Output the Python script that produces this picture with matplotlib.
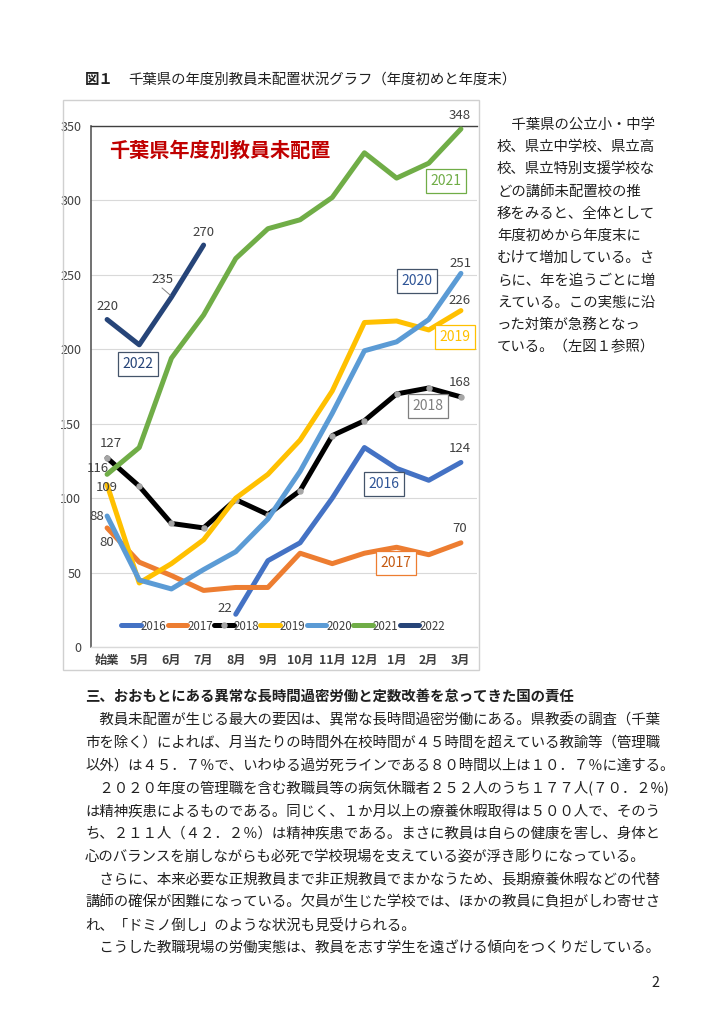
import matplotlib
matplotlib.use("Agg")
import matplotlib.pyplot as plt
from matplotlib.patches import Rectangle

plt.rcParams['font.family'] = ['Noto Sans CJK JP', 'DejaVu Sans']

# ---------------- data ----------------
months = ["始業", "5月", "6月", "7月", "8月", "9月", "10月", "11月", "12月", "1月", "2月", "3月"]
y2016 = [None, None, None, None, 22, 58, 70, 100, 134, 120, 112, 124]
y2017 = [80, 57, 48, 38, 40, 40, 63, 56, 63, 67, 62, 70]
y2018 = [127, 108, 83, 80, 99, 89, 105, 142, 152, 170, 174, 168]
y2019 = [109, 43, 56, 72, 100, 116, 139, 172, 218, 219, 213, 226]
y2020 = [88, 45, 39, 52, 64, 86, 118, 157, 199, 205, 220, 251]
y2021 = [116, 134, 194, 223, 261, 281, 287, 302, 332, 315, 325, 348]
y2022 = [220, 203, 235, 270, None, None, None, None, None, None, None, None]
series_names = ["2016", "2017", "2018", "2019", "2020", "2021", "2022"]
yticks = [0, 50, 100, 150, 200, 250, 300, 350]

colors = {"2016": "#4472C4", "2017": "#ED7D31", "2018": "#000000", "2019": "#FFC000",
          "2020": "#5B9BD5", "2021": "#70AD47", "2022": "#264478"}

W, H = 724, 1024
fig = plt.figure(figsize=(W / 100, H / 100), dpi=100)
fig.patch.set_facecolor("white")

def fx(px):
    return px / W

def fy(py):
    return 1 - py / H

# outer chart border
fig.patches.append(Rectangle((fx(63), fy(670)), fx(479) - fx(63), fy(100) - fy(670),
                             transform=fig.transFigure, fill=False, ec="#D0D0D0", lw=1.0))

ax_l, ax_r, ax_t, ax_b = 91, 477, 126, 647
ax = fig.add_axes([fx(ax_l), fy(ax_b), fx(ax_r) - fx(ax_l), fy(ax_t) - fy(ax_b)])
ax.set_xlim(-0.5, 11.5)
ax.set_ylim(0, 350)
ax.set_yticks(yticks)
ax.set_xticks(range(len(months)))
ax.set_xticklabels(months, fontsize=8.8, fontweight="bold", color="#404040")
ax.tick_params(axis="y", length=0, pad=7, labelsize=9, labelcolor="#404040")
ax.tick_params(axis="x", length=0, pad=5)
ax.grid(axis="y", color="#D9D9D9", lw=0.8)
ax.set_axisbelow(True)
ax.spines["right"].set_visible(False)
ax.spines["left"].set_color("#595959")
ax.spines["left"].set_linewidth(1.2)
ax.spines["top"].set_color("#404040")
ax.spines["top"].set_linewidth(1.0)
ax.spines["bottom"].set_color("#D9D9D9")
ax.spines["bottom"].set_linewidth(1.0)

data = {"2016": y2016, "2017": y2017, "2018": y2018, "2019": y2019,
        "2020": y2020, "2021": y2021, "2022": y2022}
handles = []
for i, name in enumerate(series_names):
    vals = data[name]
    xs = [k for k, v in enumerate(vals) if v is not None]
    ys = [v for v in vals if v is not None]
    kw = dict(color=colors[name], lw=3.6, solid_capstyle="round", solid_joinstyle="round",
              zorder=3 + i)
    if name == "2018":
        kw.update(marker="o", markersize=3.6, markerfacecolor="#A6A6A6", markeredgecolor="#A6A6A6")
    ln, = ax.plot(xs, ys, label=name, **kw)
    handles.append(ln)

leg = ax.legend(handles=handles, ncol=7, loc="center",
                bbox_to_anchor=(fx(283), fy(626)), bbox_transform=fig.transFigure,
                frameon=False, fontsize=8.3, handlelength=1.7, handletextpad=0.0,
                columnspacing=0.1, borderpad=0)
for t in leg.get_texts():
    t.set_color("#404040")

# chart title
ax.text((220 - 107) / 32.2, (647 - 150) / 1.4886, "千葉県年度別教員未配置", color="#C00000",
        fontsize=14.5, fontweight="bold", ha="center", va="center", zorder=10)

def dx(px):
    return (px - 107) / 32.17

def dy(py):
    return (647 - py) / 1.4886

# value labels (pixel positions converted to data coordinates)
value_labels = [
    ("348", 460, 115), ("270", 203, 232), ("235", 162, 279), ("220", 107, 306),
    ("251", 460, 263), ("226", 460, 300), ("168", 460, 382), ("124", 460, 448),
    ("127", 111, 443), ("116", 98, 468), ("109", 107, 487), ("88", 97, 516),
    ("80", 107, 542), ("70", 460, 528), ("22", 225, 608),
]
for txt, px, py in value_labels:
    ax.text(dx(px), dy(py), txt, fontsize=9.5, color="#404040", ha="center", va="center",
            zorder=20, clip_on=False)
# leader line for 235
ax.plot([dx(162), dx(170)], [dy(288), dy(295)], color="#808080", lw=0.7, zorder=19)

# series name boxes
boxes = [
    ("2021", 446, 181, "#70AD47", "#70AD47"),
    ("2020", 417, 281, "#2F5597", "#44546A"),
    ("2019", 455, 337, "#FFC000", "#FFC000"),
    ("2022", 138, 364, "#264478", "#44546A"),
    ("2018", 428, 406, "#7F7F7F", "#7F7F7F"),
    ("2016", 384, 484, "#2F5597", "#44546A"),
    ("2017", 396, 563, "#C55A11", "#ED7D31"),
]
for txt, px, py, tc, ec in boxes:
    ax.text(dx(px), dy(py), txt, fontsize=10, color=tc, ha="center", va="center", zorder=25,
            bbox=dict(boxstyle="square,pad=0.33", fc="white", ec=ec, lw=0.9))

# ---------------- page text ----------------
fs = 10.4
fig.text(fx(85), fy(80), "図１", fontsize=fs, fontweight="bold", ha="left", va="center", color="#202020")
fig.text(fx(128), fy(80), "千葉県の年度別教員未配置状況グラフ（年度初めと年度末）", fontsize=fs,
         ha="left", va="center", color="#202020")

side_lines = [
    "　千葉県の公立小・中学",
    "校、県立中学校、県立高",
    "校、県立特別支援学校な",
    "どの講師未配置校の推",
    "移をみると、全体として",
    "年度初めから年度末に",
    "むけて増加している。さ",
    "らに、年を追うごとに増",
    "えている。この実態に沿",
    "った対策が急務となっ",
    "ている。（左図１参照）",
]
for i, s in enumerate(side_lines):
    fig.text(fx(497), fy(125 + i * 22.2), s, fontsize=fs, ha="left", va="center", color="#202020")

body_lines = [
    "三、おおもとにある異常な長時間過密労働と定数改善を怠ってきた国の責任",
    "　教員未配置が生じる最大の要因は、異常な長時間過密労働にある。県教委の調査（千葉",
    "市を除く）によれば、月当たりの時間外在校時間が４５時間を超えている教諭等（管理職",
    "以外）は４５．７％で、いわゆる過労死ラインである８０時間以上は１０．７％に達する。",
    "　２０２０年度の管理職を含む教職員等の病気休職者２５２人のうち１７７人(７０．２%)",
    "は精神疾患によるものである。同じく、１か月以上の療養休暇取得は５００人で、そのう",
    "ち、２１１人（４２．２％）は精神疾患である。まさに教員は自らの健康を害し、身体と",
    "心のバランスを崩しながらも必死で学校現場を支えている姿が浮き彫りになっている。",
    "　さらに、本来必要な正規教員まで非正規教員でまかなうため、長期療養休暇などの代替",
    "講師の確保が困難になっている。欠員が生じた学校では、ほかの教員に負担がしわ寄せさ",
    "れ、「ドミノ倒し」のような状況も見受けられる。",
    "　こうした教職現場の労働実態は、教員を志す学生を遠ざける傾向をつくりだしている。",
]
for i, s in enumerate(body_lines):
    fig.text(fx(85), fy(697 + i * 22.8), s, fontsize=fs, ha="left", va="center", color="#202020",
             fontweight="bold" if i == 0 else "normal")

fig.text(fx(655), fy(983), "2", fontsize=fs, ha="center", va="center", color="#202020")

fig.savefig("out.png", dpi=100)
